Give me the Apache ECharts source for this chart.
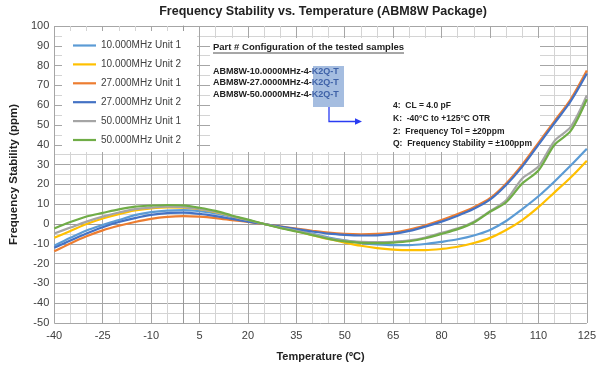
<!DOCTYPE html>
<html><head><meta charset="utf-8">
<script src="https://cdn.jsdelivr.net/npm/echarts@6/dist/echarts.min.js"></script>
<style>html,body{margin:0;padding:0;background:#fff}#c{width:599px;height:376px}</style>
</head><body><div id="c"></div>
<script>
// ---- data ----
const temps = [-40,-35,-30,-25,-20,-15,-10,-5,0,5,10,15,20,25,30,35,40,45,50,55,60,65,70,75,80,85,90,95,100,105,110,115,120,125];
const seriesNames = ['10.000MHz Unit 1','10.000MHz Unit 2','27.000MHz Unit 1','27.000MHz Unit 2','50.000MHz Unit 1','50.000MHz Unit 2'];
const mhz10u1 = [-11,-7,-3.3,-0.5,2,4.5,6,6.8,7,6.5,5.4,3.6,1.8,0,-1.7,-3.3,-5,-6.8,-8.3,-9.5,-10.3,-10.7,-10.7,-10.1,-9,-7.7,-5.8,-3,1.5,7.5,14,21.5,29.5,38];
const mhz10u2 = [-7,-3.5,0,2.8,5,6.8,7.9,8.4,8.3,7.5,6,3.9,1.8,0,-1.8,-3.6,-5.6,-7.6,-9.4,-11,-12.2,-12.9,-13.2,-13.2,-12.6,-11.5,-9.6,-7,-3,2,8.5,16,23.5,32];
const mhz27u1 = [-13.8,-9.8,-6.2,-3.2,-0.9,1,2.6,3.6,4,3.7,3,2,1,0,-1.2,-2.3,-3.4,-4.4,-5,-5.2,-5,-4.3,-2.8,-0.6,2,5,8.5,13,20.5,30,41,52,63,77.5];
const mhz27u2 = [-12,-8.3,-4.8,-1.6,1,3,4.6,5.5,5.7,5.1,4,2.6,1.2,0,-1.3,-2.6,-3.8,-4.9,-5.5,-5.8,-5.7,-5,-3.5,-1.3,1.2,4.2,7.7,12.3,19.7,29,40,51,62,76];
const mhz50u1 = [-4.8,-1.8,1.2,3.7,5.8,7.5,8.3,8.7,8.5,7.6,6.2,4,2,0,-1.8,-3.4,-5.2,-7.2,-8.4,-9,-9.2,-9,-8.3,-6.8,-4.5,-2.2,1.2,6.5,12,23,29,42,49,65];
const mhz50u2 = [-2.3,1,3.8,5.6,7.4,8.8,9.3,9.6,9.4,8.2,6.6,4.3,2.2,0,-2,-3.8,-5.6,-7.5,-8.8,-9.5,-9.7,-9.4,-8.7,-7.2,-5,-2.6,0.8,6.2,11,20.5,27,40,47,63];
const xTickLabels = [-40,-25,-10,5,20,35,50,65,80,95,110,125];
const yTickLabels = [-50,-40,-30,-20,-10,0,10,20,30,40,50,60,70,80,90,100];
const partNumbers = ['ABM8W-10.0000MHz-4-','ABM8W-27.0000MHz-4-','ABM8W-50.0000MHz-4-'];
const partSuffix = 'K2Q-T';
const notes = ['4:  CL = 4.0 pF','K:  -40°C to +125°C OTR','2:  Frequency Tol = ±20ppm','Q:  Frequency Stability = ±100ppm'];
const titleText = 'Frequency Stability vs. Temperature (ABM8W Package)';
const notesTitle = 'Part # Configuration of the tested samples';

// ---- chart ----
const allValues = [mhz10u1, mhz10u2, mhz27u1, mhz27u2, mhz50u1, mhz50u2];
const colors = ['#5B9BD5','#FFC000','#ED7D31','#4472C4','#A5A5A5','#70AD47'];
const FONT = "'Liberation Sans', Arial, sans-serif";

const chart = echarts.init(document.getElementById('c'), null, {renderer: 'canvas'});

const series = allValues.map((vals, i) => ({
  name: seriesNames[i],
  type: 'line',
  data: temps.map((t, j) => [t, vals[j]]),
  showSymbol: false,
  smooth: 0.3,
  lineStyle: {width: 2.2, color: colors[i]},
  itemStyle: {color: colors[i]},
  z: 2
}));

const graphic = [];
// title
graphic.push({type: 'text', x: 323, y: 12, z: 5,
  style: {text: titleText, font: 'bold 12.5px ' + FONT, fill: '#222', textAlign: 'center', textVerticalAlign: 'middle'}});
// legend background
graphic.push({type: 'rect', shape: {x: 62, y: 31, width: 135, height: 121}, style: {fill: '#fff'}, z: 1, silent: true});
// annotation background
graphic.push({type: 'rect', shape: {x: 210, y: 38, width: 330, height: 114}, style: {fill: '#fff'}, z: 1, silent: true});
// highlight
graphic.push({type: 'rect', shape: {x: 313, y: 66, width: 31, height: 41}, style: {fill: '#a5bde0'}, z: 3, silent: true});
// notes title + underline
graphic.push({type: 'text', x: 213, y: 47, z: 5,
  style: {text: notesTitle, font: 'bold 9.5px ' + FONT, fill: '#222', textVerticalAlign: 'middle'}});
graphic.push({type: 'line', shape: {x1: 213, y1: 53, x2: 404, y2: 53}, style: {stroke: '#222', lineWidth: 0.8}, z: 5});
// part numbers
partNumbers.forEach((p, i) => {
  graphic.push({type: 'text', x: 213, y: 71.7 + i * 11.2, z: 5,
    style: {text: '{a|' + p + '}{b|' + partSuffix + '}', textVerticalAlign: 'middle',
      rich: {a: {font: 'bold 9px ' + FONT, fill: '#222'}, b: {font: 'bold 9px ' + FONT, fill: '#3f62a8'}}}});
});
// arrow
graphic.push({type: 'polyline', shape: {points: [[329, 107], [329, 121.5], [357, 121.5]]}, style: {stroke: '#2a3cf2', lineWidth: 1.3, fill: null}, z: 5});
graphic.push({type: 'polygon', shape: {points: [[355, 118.3], [362, 121.5], [355, 124.7]]}, style: {fill: '#2a3cf2'}, z: 5});
// notes
notes.forEach((n, i) => {
  graphic.push({type: 'text', x: 393, y: 106 + i * 12.7, z: 5,
    style: {text: n, font: 'bold 8.5px ' + FONT, fill: '#222', textVerticalAlign: 'middle'}});
});

chart.setOption({
  animation: false,
  backgroundColor: '#fff',
  textStyle: {fontFamily: FONT},
  grid: {left: 51, right: 7, top: 26, bottom: 53, containLabel: false},
  legend: {
    orient: 'vertical', left: 68, top: 33.5, padding: 5,
    data: seriesNames, icon: 'rect', itemWidth: 23, itemHeight: 2.2, itemGap: 4.9,
    textStyle: {fontSize: 10, color: '#404040', lineHeight: 14, fontFamily: FONT},
    selectedMode: false, z: 6
  },
  xAxis: {
    type: 'value', min: -40, max: 125, interval: 5,
    name: 'Temperature (ºC)', nameLocation: 'middle', nameGap: 28,
    nameTextStyle: {fontSize: 11, fontWeight: 'bold', color: '#222', fontFamily: FONT},
    axisLine: {show: true, lineStyle: {color: '#999', width: 1}},
    axisTick: {show: false},
    axisLabel: {fontSize: 11, color: '#404040', margin: 7, fontFamily: FONT,
      formatter: v => xTickLabels.includes(v) ? String(v) : ''},
    splitLine: {show: true, lineStyle: {color: ['#a6a6a6', '#d4d4d4', '#d4d4d4'], width: 1}}
  },
  yAxis: {
    type: 'value', min: -50, max: 100, interval: 5,
    name: 'Frequency Stability (ppm)', nameLocation: 'middle', nameGap: 33, nameRotate: 90,
    nameTextStyle: {fontSize: 11.5, fontWeight: 'bold', color: '#222', fontFamily: FONT},
    axisLine: {show: true, lineStyle: {color: '#999', width: 1}},
    axisTick: {show: false},
    axisLabel: {fontSize: 11, color: '#404040', margin: 5, fontFamily: FONT,
      formatter: v => yTickLabels.includes(v) ? String(v) : ''},
    splitLine: {show: true, lineStyle: {color: ['#a6a6a6', '#d4d4d4'], width: 1}}
  },
  graphic: graphic,
  series: series
});
</script></body></html>
